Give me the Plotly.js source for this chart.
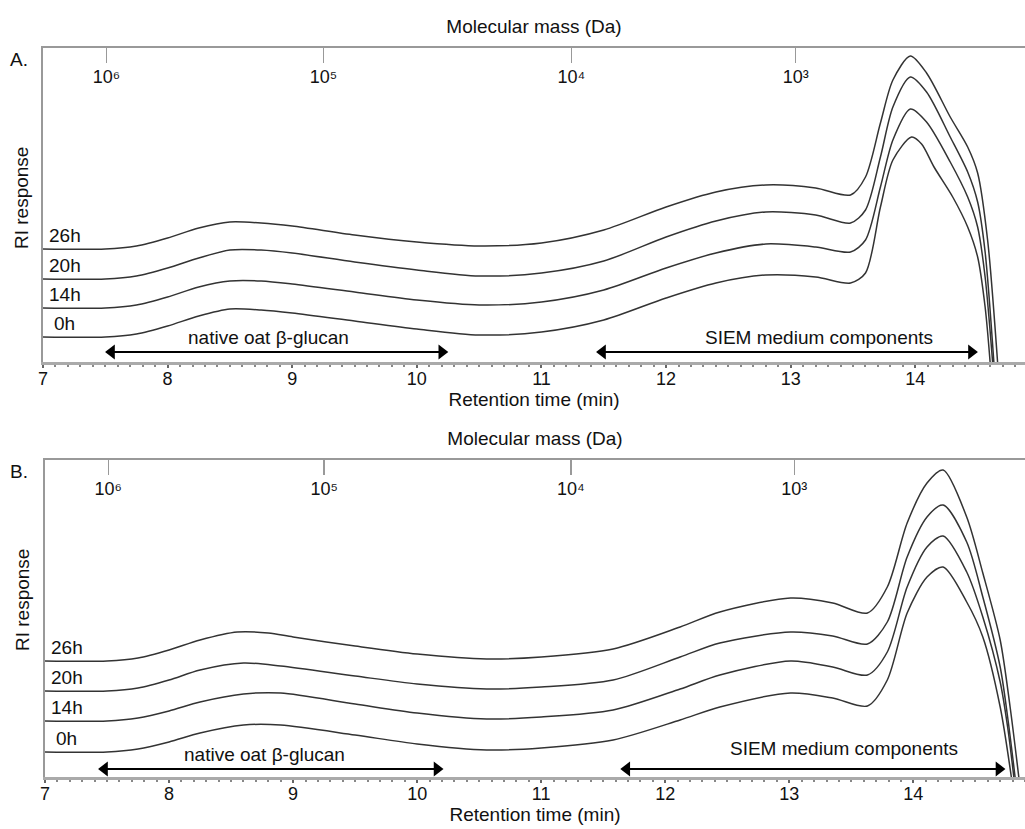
<!DOCTYPE html>
<html>
<head>
<meta charset="utf-8">
<script src="https://cdn.plot.ly/plotly-3.0.1.min.js"></script>
<style>html,body{margin:0;padding:0;background:#fff;}#chart{width:1025px;height:829px;}</style>
</head>
<body>
<div id="chart"></div>
<script>
// ---------- Data (retention time in min, RI response in arbitrary units) ----------
const seriesNames = ["0h", "14h", "20h", "26h"];

// Panel A
const tA_0h  = [7.0,7.5,7.75,8.0,8.25,8.5,8.75,9.0,9.5,10.0,10.5,11.0,11.5,12.0,12.4,12.8,13.2,13.48,13.6,13.72,13.82,13.97,14.05,14.15,14.3,14.42,14.5,14.56,14.6];
const yA_0h  = [25,25,28,36,46,53,52,49,41,33,27,30,42,64,79,87,85,79,89,155,202,225,218,195,165,135,105,55,0];
const tA_14h = [7.0,7.5,7.75,8.0,8.25,8.5,8.75,9.0,9.5,10.0,10.5,11.0,11.5,12.0,12.4,12.8,13.2,13.48,13.6,13.72,13.82,13.96,14.09,14.28,14.42,14.5,14.56,14.62];
const yA_14h = [54,54,57,65,75,81,81,78,70,62,57,60,72,94,109,118,115,110,122,175,222,253,240,200,165,135,85,0];
const tA_20h = [7.0,7.5,7.75,8.0,8.25,8.5,8.75,9.0,9.5,10.0,10.5,11.0,11.5,12.0,12.4,12.8,13.2,13.48,13.6,13.72,13.82,13.96,14.09,14.28,14.42,14.5,14.56,14.63];
const yA_20h = [83,83,86,94,104,112,112,109,100,92,86,89,101,125,141,150,147,139,152,205,255,285,270,225,190,160,110,0];
const tA_26h = [7.0,7.5,7.75,8.0,8.25,8.5,8.75,9.0,9.5,10.0,10.5,11.0,11.5,12.0,12.4,12.8,13.2,13.48,13.6,13.72,13.82,13.96,14.09,14.28,14.42,14.5,14.58,14.66];
const yA_26h = [113,113,116,124,134,140,139,136,127,120,116,119,132,155,170,177,174,167,185,239,282,306,289,245,215,189,122,0];

// Panel B
const tB_0h  = [7.0,7.5,7.75,8.0,8.25,8.6,8.9,9.5,10.0,10.56,11.0,11.58,12.12,12.44,13.01,13.35,13.63,13.79,13.95,14.11,14.24,14.43,14.56,14.7,14.79];
const yB_0h  = [25,25,28,35,44,52,52,42,33,27,29,37,57,70,84,79,71,97,164,200,210,175,140,70,0];
const tB_14h = [7.0,7.5,7.75,8.0,8.25,8.6,8.9,9.5,10.0,10.56,11.0,11.58,12.12,12.44,13.01,13.35,13.63,13.79,13.95,14.11,14.24,14.43,14.56,14.7,14.76,14.81];
const yB_14h = [56,56,59,66,75,83,84,73,64,58,60,67,88,102,116,110,102,125,190,230,241,205,160,95,50,0];
const tB_20h = [7.0,7.5,7.75,8.0,8.25,8.6,8.9,9.5,10.0,10.56,11.0,11.58,12.12,12.44,13.01,13.35,13.63,13.79,13.95,14.11,14.24,14.43,14.56,14.7,14.76,14.82];
const yB_20h = [86,86,89,97,107,114,111,101,93,88,90,97,120,134,145,141,133,155,220,260,272,235,180,110,60,0];
const tB_26h = [7.0,7.5,7.75,8.0,8.25,8.55,8.8,9.0,9.5,10.0,10.56,11.0,11.58,12.12,12.44,13.01,13.35,13.63,13.79,13.95,14.11,14.24,14.43,14.56,14.7,14.78,14.85];
const yB_26h = [116,116,119,127,137,145,144,140,131,123,118,120,128,150,165,179,174,164,190,254,294,307,260,204,137,70,0];

// Axis tick labels
const rtTicks = [7, 8, 9, 10, 11, 12, 13, 14];
const massTickPos = [7.51, 9.25, 11.24, 13.04];
const massTickLabels = ["10⁶", "10⁵", "10⁴", "10³"];

// Region annotations [start, end] in retention time
const regionNames = ["native oat β-glucan", "SIEM medium components"];
const regionA = [[7.5, 10.25], [11.44, 14.5]];
const regionB = [[7.43, 10.21], [11.64, 14.74]];

// ---------- Build ----------
const FONT = "Liberation Sans, Arial, sans-serif";
const lineStyle = {color: "#333", width: 1.5, shape: "spline", smoothing: 0.8};

const tA = [tA_0h, tA_14h, tA_20h, tA_26h], yA = [yA_0h, yA_14h, yA_20h, yA_26h];
const tB = [tB_0h, tB_14h, tB_20h, tB_26h], yB = [yB_0h, yB_14h, yB_20h, yB_26h];

const traces = [];
seriesNames.forEach((n, i) => {
  traces.push({x: tA[i], y: yA[i], xaxis: "x", yaxis: "y", mode: "lines", name: n, line: lineStyle, showlegend: false, hoverinfo: "skip"});
});
seriesNames.forEach((n, i) => {
  traces.push({x: tB[i], y: yB[i], xaxis: "x3", yaxis: "y2", mode: "lines", name: n, line: lineStyle, showlegend: false, hoverinfo: "skip"});
});
// invisible carriers so the molecular-mass (top) axes are drawn
traces.push({x: massTickPos, y: massTickPos.map(() => null), xaxis: "x2", yaxis: "y", mode: "markers", showlegend: false, hoverinfo: "skip", marker: {opacity: 0}});
traces.push({x: massTickPos, y: massTickPos.map(() => null), xaxis: "x4", yaxis: "y2", mode: "markers", showlegend: false, hoverinfo: "skip", marker: {opacity: 0}});

// double-headed arrows as line+triangle-marker traces
const HEAD = 0.05; // half head length in minutes
function arrowTraces(reg, xa, ya, yv) {
  reg.forEach(r => {
    traces.push({x: [r[0] + HEAD, r[1] - HEAD], y: [yv, yv], xaxis: xa, yaxis: ya, mode: "lines+markers",
      line: {color: "#000", width: 2}, marker: {symbol: ["triangle-left", "triangle-right"], size: 13, color: "#000", line: {width: 0}},
      showlegend: false, hoverinfo: "skip", cliponaxis: false});
  });
}
arrowTraces(regionA, "x", "y", 10);
arrowTraces(regionB, "x3", "y2", 8);

const xRangeA = [7, 14.88], xRangeB = [7, 14.90];

function bottomAxis(range, domain, anchor) {
  return {
    range: range, domain: domain, anchor: anchor, tickvals: rtTicks, ticktext: rtTicks.map(String),
    showline: true, linecolor: "#aaa", linewidth: 3, mirror: false,
    ticks: "outside", ticklen: 3, tickwidth: 2, tickcolor: "#666", ticklabelstandoff: -5,
    minor: {dtick: 0.1, tick0: 7, ticks: "outside", ticklen: 2, tickwidth: 2, tickcolor: "#888", showgrid: false},
    showgrid: false, zeroline: false, tickfont: {family: FONT, size: 18, color: "#111"},
    title: {text: "Retention time (min)", font: {family: FONT, size: 19, color: "#111"}, standoff: 0},
    automargin: false, fixedrange: true
  };
}
function topAxis(range, overlay, anchor) {
  return {
    range: range, overlaying: overlay, anchor: anchor, side: "top",
    tickvals: massTickPos, ticktext: massTickLabels,
    showline: true, linecolor: "#999", linewidth: 2,
    ticks: "inside", ticklen: 15, tickwidth: 1.5, tickcolor: "#999",
    ticklabelposition: "inside", ticklabelstandoff: 8, showgrid: false, zeroline: false,
    tickfont: {family: FONT, size: 18, color: "#111"},
    title: {text: "Molecular mass (Da)", font: {family: FONT, size: 19, color: "#111"}, standoff: 28},
    automargin: false, fixedrange: true
  };
}
function leftAxis(range, domain, anchor) {
  return {
    range: range, domain: domain, anchor: anchor, showline: true, linecolor: "#999", linewidth: 2,
    ticks: "", showticklabels: false, showgrid: false, zeroline: false, automargin: false, fixedrange: true
  };
}

const H = 829, W = 1025;
const layout = {
  width: W, height: H, margin: {l: 0, r: 0, t: 0, b: 0}, paper_bgcolor: "#fff", plot_bgcolor: "#fff",
  font: {family: FONT, color: "#111"}, showlegend: false,
  xaxis: bottomAxis(xRangeA, [43 / W, 1], "y"),
  xaxis2: topAxis(xRangeA, "x", "y"),
  yaxis: leftAxis([0, 314], [(H - 362) / H, (H - 48) / H], "x"),
  xaxis3: bottomAxis(xRangeB, [45 / W, 1], "y2"),
  xaxis4: topAxis(xRangeB, "x3", "y2"),
  yaxis2: leftAxis([0, 317], [(H - 777) / H, (H - 460) / H], "x3"),
  annotations: []
};

const ann = layout.annotations;
// Panel letters
ann.push({xref: "paper", yref: "paper", x: 8 / W, y: (H - 59) / H, text: "A.", showarrow: false, xanchor: "left", yanchor: "middle", font: {family: FONT, size: 19}});
ann.push({xref: "paper", yref: "paper", x: 8 / W, y: (H - 471) / H, text: "B.", showarrow: false, xanchor: "left", yanchor: "middle", font: {family: FONT, size: 19}});
// RI response titles
ann.push({xref: "paper", yref: "paper", x: 22 / W, y: (H - 198) / H, text: "RI response", textangle: -90, showarrow: false, xanchor: "center", yanchor: "middle", font: {family: FONT, size: 19}});
ann.push({xref: "paper", yref: "paper", x: 22 / W, y: (H - 600) / H, text: "RI response", textangle: -90, showarrow: false, xanchor: "center", yanchor: "middle", font: {family: FONT, size: 19}});

// Curve labels
function curveLabels(ys, xr, yr) {
  seriesNames.forEach((n, i) => {
    ann.push({xref: xr, yref: yr, x: 7.03 + (n === "0h" ? 0.04 : 0), y: ys[i][0] + 1, text: n, showarrow: false, xanchor: "left", yanchor: "bottom", font: {family: FONT, size: 19}});
  });
}
curveLabels(yA, "x", "y");
curveLabels(yB, "x3", "y2");

// Region labels
function regionLabels(xr, yr, textY, textX) {
  regionNames.forEach((t, i) => {
    ann.push({xref: xr, yref: yr, x: textX[i], y: textY[i], text: t, showarrow: false, xanchor: "center", yanchor: "middle", font: {family: FONT, size: 19}});
  });
}
regionLabels("x", "y", [25, 25], [8.81, 13.23]);
regionLabels("x3", "y2", [23, 29], [8.77, 13.44]);

Plotly.newPlot("chart", traces, layout, {staticPlot: true, displayModeBar: false});
</script>
</body>
</html>
